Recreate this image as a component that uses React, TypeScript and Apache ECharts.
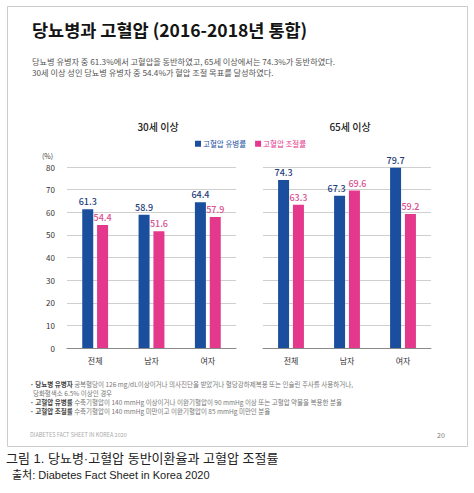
import React, { useEffect, useRef } from "react";
import * as echarts from "echarts";

const categories = ["전체", "남자", "여자"];
const prevalence30 = [61.3, 58.9, 64.4];
const control30 = [54.4, 51.6, 57.9];
const prevalence65 = [74.3, 67.3, 79.7];
const control65 = [63.3, 69.6, 59.2];
const panelTitles = ["30세 이상", "65세 이상"];
const seriesNames = ["고혈압 유병률", "고혈압 조절률"];
const yMin = 0;
const yMax = 80;
const yInterval = 10;

const mainTitle = "당뇨병과 고혈압 (2016-2018년 통합)";
const subLines = [
  "당뇨병 유병자 중 61.3%에서 고혈압을 동반하였고, 65세 이상에서는 74.3%가 동반하였다.",
  "30세 이상 성인 당뇨병 유병자 중 54.4%가 혈압 조절 목표를 달성하였다.",
];
const notes: [string, string][] = [
  ["· 당뇨병 유병자", " 공복혈당이 126 mg/dL이상이거나 의사진단을 받았거나 혈당강하제복용 또는 인슐린 주사를 사용하거나,"],
  ["", "  당화혈색소 6.5% 이상인 경우"],
  ["· 고혈압 유병률", " 수축기혈압이 140 mmHg 이상이거나 이완기혈압이 90 mmHg 이상 또는 고혈압 약물을 복용한 분율"],
  ["· 고혈압 조절률", " 수축기혈압이 140 mmHg 미만이고 이완기혈압이 85 mmHg 미만인 분율"],
];
const footerText = "DIABETES FACT SHEET IN KOREA 2020";
const pageNo = "20";
const caption = "그림 1. 당뇨병·고혈압 동반이환율과 고혈압 조절률";
const source = "출처: Diabetes Fact Sheet in Korea 2020";

const FONT = "'Noto Sans CJK KR', 'Noto Sans', sans-serif";
const CAP_FONT = "'Liberation Sans', 'Noto Sans CJK KR', sans-serif";
const BLUE = "#1b4f9e";
const PINK = "#e3388c";
const BLUE_LABEL = "#23407a";
const PINK_LABEL = "#d9508f";

export default function App() {
  const ref = useRef<HTMLDivElement>(null);

  useEffect(() => {
    if (!ref.current) return;
    const chart = echarts.init(ref.current, undefined, { renderer: "svg" });

    const grids = [
      { left: 67, top: 167, width: 169, height: 181 },
      { left: 263, top: 167, width: 168, height: 181 },
    ];

    const xAxis = [0, 1].map((i) => ({
      type: "category",
      gridIndex: i,
      data: categories,
      axisTick: { show: false },
      axisLine: { show: true, lineStyle: { color: "#8a8a8a", width: 1 } },
      axisLabel: { color: "#333", fontSize: 8, fontFamily: FONT, margin: 8 },
    }));

    const yAxis = [0, 1].map((i) => ({
      type: "value",
      gridIndex: i,
      min: yMin,
      max: yMax,
      interval: yInterval,
      axisLine: { show: false },
      axisTick: { show: false },
      axisLabel: {
        show: i === 0,
        color: "#333",
        fontSize: 8,
        fontFamily: FONT,
        margin: 12,
      },
      splitLine: { show: true, lineStyle: { color: "#cfcfcf", width: 1 } },
    }));

    // Nudge labels apart where a pair of bars is nearly equal in height.
    const withOffsets = (vals: number[], other: number[], dir: number) =>
      vals.map((v, k) =>
        Math.abs(v - other[k]) < 4
          ? { value: v, label: { offset: [dir * 3, 0] } }
          : v
      );

    const mkSeries = (
      name: string,
      data: any[],
      idx: number,
      color: string,
      labelColor: string
    ) => ({
      type: "bar",
      name,
      data,
      xAxisIndex: idx,
      yAxisIndex: idx,
      barWidth: 11,
      barGap: "35%",
      itemStyle: { color },
      label: {
        show: true,
        position: "top",
        distance: 3,
        color: labelColor,
        fontSize: 9,
        fontFamily: FONT,
        fontWeight: 500,
        formatter: (p: any) => Number(p.value).toFixed(1),
      },
    });

    const series = [
      mkSeries(seriesNames[0], withOffsets(prevalence30, control30, -1), 0, BLUE, BLUE_LABEL),
      mkSeries(seriesNames[1], withOffsets(control30, prevalence30, 1), 0, PINK, PINK_LABEL),
      mkSeries(seriesNames[0], withOffsets(prevalence65, control65, -1), 1, BLUE, BLUE_LABEL),
      mkSeries(seriesNames[1], withOffsets(control65, prevalence65, 1), 1, PINK, PINK_LABEL),
    ];

    const noteGraphics = notes.map((n, i) => ({
      type: "text",
      left: 30,
      top: 381 + i * 9,
      style: {
        text: (n[0] ? `{b|${n[0]}}` : "") + `{n|${n[1]}}`,
        rich: {
          b: { fontSize: 6.5, fontWeight: "bold", fill: "#444", fontFamily: FONT },
          n: { fontSize: 6.5, fill: "#777", fontFamily: FONT },
        },
        fontFamily: FONT,
      },
    }));

    const option: any = {
      animation: false,
      backgroundColor: "#ffffff",
      textStyle: { fontFamily: FONT },
      title: [
        {
          text: panelTitles[0],
          left: 153,
          top: 116,
          textAlign: "center",
          textStyle: { fontSize: 10, fontWeight: 500, color: "#222", fontFamily: FONT },
        },
        {
          text: panelTitles[1],
          left: 345,
          top: 116,
          textAlign: "center",
          textStyle: { fontSize: 10, fontWeight: 500, color: "#222", fontFamily: FONT },
        },
      ],
      legend: {
        left: 190,
        top: 135,
        itemWidth: 6,
        itemHeight: 6,
        itemGap: 9,
        icon: "rect",
        data: [
          { name: seriesNames[0], textStyle: { color: BLUE } },
          { name: seriesNames[1], textStyle: { color: PINK } },
        ],
        textStyle: { fontSize: 7.5, fontFamily: FONT, padding: [0, 0, 0, -3] },
      },
      grid: grids,
      xAxis,
      yAxis,
      series,
      graphic: [
        {
          type: "rect",
          shape: { x: 7.5, y: 6.5, width: 460, height: 440 },
          style: { fill: "none", stroke: "#cccccc", lineWidth: 1 },
          z: 0,
        },
        {
          type: "text",
          left: 32,
          top: 21,
          style: { text: mainTitle, fontSize: 17.5, fontWeight: "bold", fill: "#141414", fontFamily: FONT },
        },
        {
          type: "text",
          left: 32,
          top: 57,
          style: { text: subLines[0], fontSize: 8.2, fill: "#555", fontFamily: FONT },
        },
        {
          type: "text",
          left: 32,
          top: 68,
          style: { text: subLines[1], fontSize: 8.2, fill: "#555", fontFamily: FONT },
        },
        {
          type: "text",
          left: 42,
          top: 152,
          style: { text: "(%)", fontSize: 7, fill: "#444", fontFamily: FONT },
        },
        ...noteGraphics,
        {
          type: "text",
          left: 30,
          top: 432,
          style: { text: footerText, fontSize: 5.5, fill: "#aaaaaa", fontFamily: FONT },
        },
        {
          type: "text",
          left: 437,
          top: 431,
          style: { text: pageNo, fontSize: 7, fill: "#777", fontFamily: FONT },
        },
        {
          type: "text",
          left: 6,
          top: 452,
          style: { text: caption, fontSize: 13, fill: "#222", fontFamily: CAP_FONT },
        },
        {
          type: "text",
          left: 12,
          top: 469,
          style: { text: source, fontSize: 11, fill: "#222", fontFamily: CAP_FONT },
        },
      ],
    };

    chart.setOption(option);
    return () => chart.dispose();
  }, []);

  return (
    <div
      ref={ref}
      style={{ position: "fixed", left: 0, top: 0, width: 474, height: 493, background: "#fff" }}
    />
  );
}
